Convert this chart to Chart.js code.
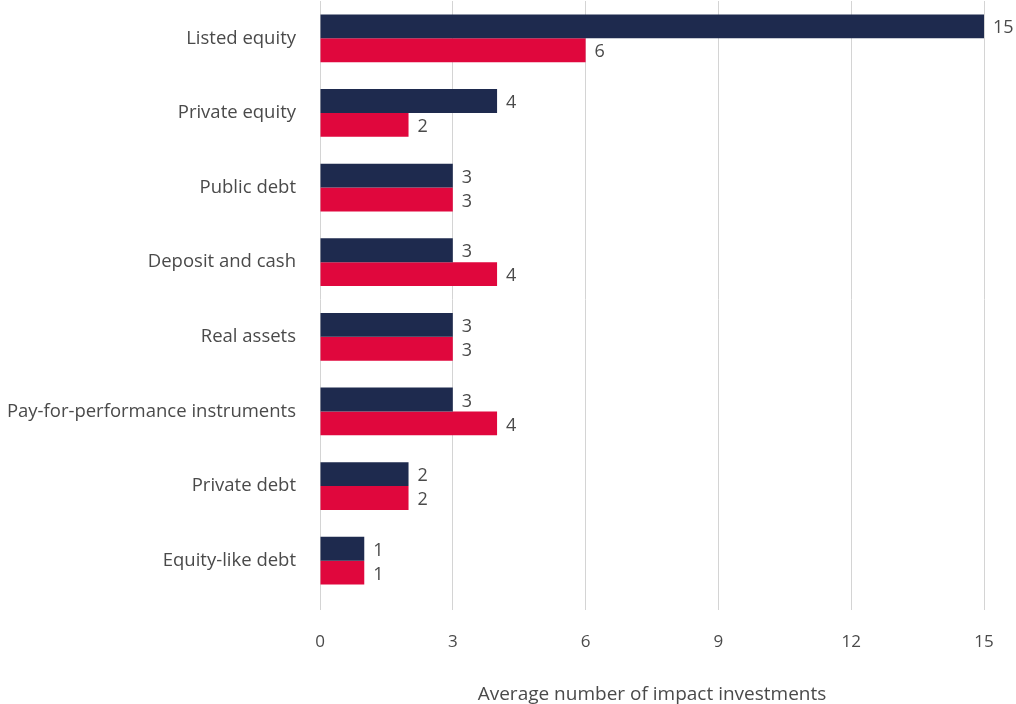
<!DOCTYPE html>
<html>
<head>
<meta charset="utf-8">
<script src="https://cdn.jsdelivr.net/npm/chart.js@4.4.1/dist/chart.umd.min.js"></script>
<style>
  html, body { margin: 0; padding: 0; background: #ffffff; }
  #wrap { width: 1016px; height: 704px; }
</style>
</head>
<body>
<div id="wrap"><canvas id="assetChart" width="1016" height="704"></canvas></div>
<script>
// Asset classes and average number of impact investments per class
const categories = [
  'Listed equity',
  'Private equity',
  'Public debt',
  'Deposit and cash',
  'Real assets',
  'Pay-for-performance instruments',
  'Private debt',
  'Equity-like debt',
];
const navyValues = [15, 4, 3, 3, 3, 3, 2, 1];
const redValues = [6, 2, 3, 4, 3, 4, 2, 1];
const xTicks = [0, 3, 6, 9, 12, 15];

const FONT = 'Open Sans';
const TEXT = '#4a4a4a';

// Writes each bar's value just past its end
const barValueLabels = {
  id: 'barValueLabels',
  afterDatasetsDraw(chart) {
    const ctx = chart.ctx;
    ctx.save();
    ctx.font = '18px "' + FONT + '"';
    ctx.fillStyle = TEXT;
    ctx.textAlign = 'left';
    ctx.textBaseline = 'middle';
    chart.data.datasets.forEach((ds, i) => {
      chart.getDatasetMeta(i).data.forEach((bar, j) => {
        ctx.fillText(String(ds.data[j]), bar.x + 9, bar.y + 2);
      });
    });
    ctx.restore();
  },
};

new Chart(document.getElementById('assetChart'), {
  type: 'bar',
  data: {
    labels: categories,
    datasets: [
      {
        label: 'Series 1',
        data: navyValues,
        backgroundColor: '#1e2a4e',
        categoryPercentage: 0.64,
        barPercentage: 1,
      },
      {
        label: 'Series 2',
        data: redValues,
        backgroundColor: '#e0073d',
        categoryPercentage: 0.64,
        barPercentage: 1,
      },
    ],
  },
  options: {
    indexAxis: 'y',
    responsive: false,
    animation: false,
    layout: { padding: { top: 1, right: 32, bottom: 0, left: 0 } },
    plugins: {
      legend: { display: false },
      tooltip: { enabled: false },
    },
    scales: {
      x: {
        min: 0,
        max: 15,
        afterBuildTicks(scale) {
          scale.ticks = xTicks.map((v) => ({ value: v }));
        },
        afterFit(scale) {
          scale.height = 106;
        },
        grid: {
          color: '#d4d4d4',
          lineWidth: 1,
          drawTicks: true,
          tickLength: 12,
        },
        border: { display: false },
        ticks: {
          color: TEXT,
          padding: 22,
          font: { family: FONT, size: 17 },
        },
        title: {
          display: true,
          text: 'Average number of impact investments',
          color: TEXT,
          padding: { top: 0, bottom: -2 },
          font: { family: FONT, size: 19 },
        },
      },
      y: {
        afterFit(scale) {
          scale.width = 320;
          // labels sit beside the bars, so no extra room above/below the plot
          scale.paddingTop = 0;
          scale.paddingBottom = 0;
        },
        grid: { display: false, drawTicks: false },
        border: { display: false },
        ticks: {
          color: TEXT,
          padding: 24,
          font: { family: FONT, size: 18.5 },
        },
      },
    },
  },
  plugins: [barValueLabels],
});
</script>
</body>
</html>
